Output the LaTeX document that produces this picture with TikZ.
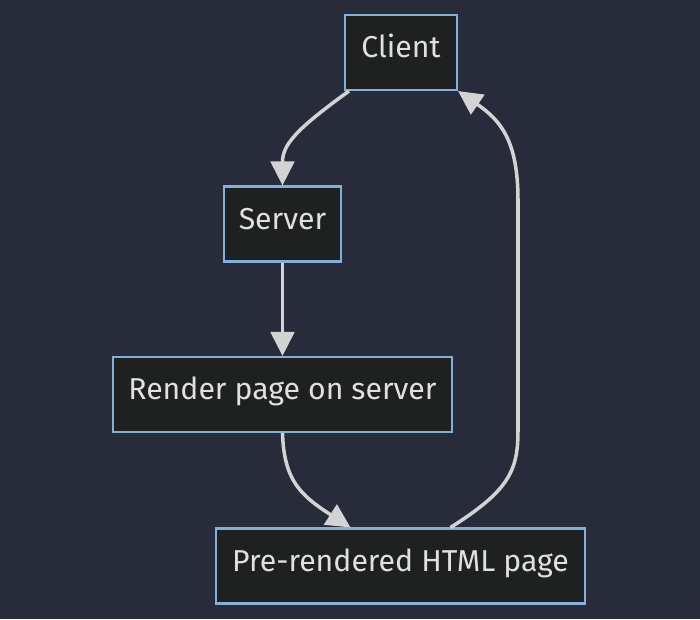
\documentclass[tikz,border=0pt]{standalone}
\usepackage{fontspec}
\setmainfont{Fira Sans}
\usetikzlibrary{arrows.meta}
\definecolor{bgnavy}{RGB}{40,44,58}
\definecolor{boxfill}{RGB}{31,32,32}
\definecolor{boxline}{RGB}{129,177,219}
\definecolor{textgrey}{RGB}{224,224,224}
\definecolor{linkgrey}{RGB}{211,211,211}
\tikzset{
  stepbox/.style={draw=boxline, fill=boxfill, line width=1.2pt, text=textgrey,
    minimum height=1.5cm, inner xsep=0.3cm, text height=0.45cm, text depth=0.25cm,
    font=\fontsize{17.2}{20}\selectfont},
  link/.style={draw=linkgrey, line width=2pt, -{Triangle[length=0.48cm,width=0.47cm]}}
}
\begin{document}
\begin{tikzpicture}[x=0.02cm, y=-0.02cm]
    \fill[bgnavy] (0,0) rectangle (700,619);
    \useasboundingbox (0,0) rectangle (700,619);
    \node[stepbox, minimum width=2.24cm] (client) at (401,52.5) {Client};
    \node[stepbox, minimum width=2.34cm] (server) at (282.5,224) {Server};
    \node[stepbox, minimum width=6.74cm] (render) at (282.5,394.5) {Render page on server};
    \node[stepbox, minimum width=7.38cm] (prerendered) at (400.5,566) {Pre-rendered HTML page};
    \draw[link] ([xshift=0.1cm]client.south west) .. controls (295,130) and (server.north |- 0,145) .. (server.north);
    \draw[link] (server.south) -- (render.north);
    \draw[link] (render.south) .. controls (284,480) and (300,495) .. ([xshift=-1.0cm]prerendered.north);
    \draw[link] ([xshift=1.0cm]prerendered.north) .. controls (510,490) and (518,470) .. (518,430)
        -- (518,200) .. controls (518,140) and (500,120) .. (client.south east);
\end{tikzpicture}
\end{document}
